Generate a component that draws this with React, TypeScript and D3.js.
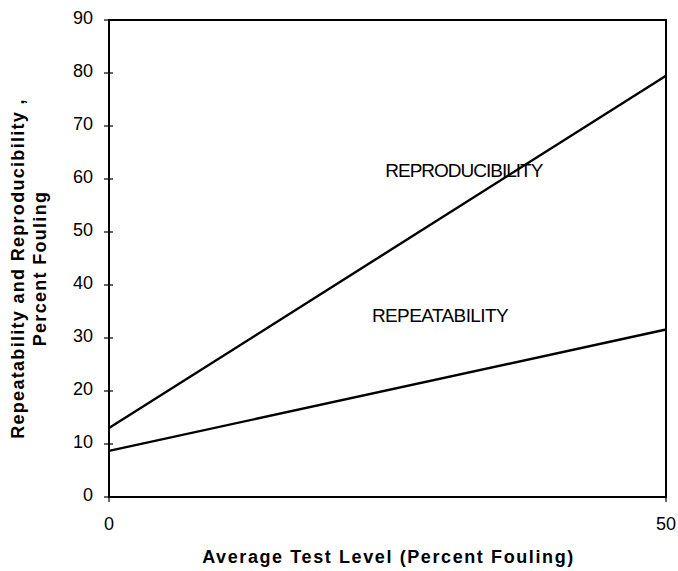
import React from "react";
import * as d3 from "d3";

const xTicks = [0, 50];
const yTicks = [0, 10, 20, 30, 40, 50, 60, 70, 80, 90];
const testLevels = [0, 50];
const reproducibility = [13.0, 79.5];
const repeatability = [8.7, 31.6];

const width = 678;
const height = 571;
const margin = { top: 20, right: 12, bottom: 74, left: 109 };

export default function App() {
  const x = d3.scaleLinear().domain([0, 50]).range([margin.left, width - margin.right]);
  const y = d3.scaleLinear().domain([0, 90]).range([height - margin.bottom, margin.top]);

  const line = d3
    .line<number>()
    .x((d, i) => x(testLevels[i]))
    .y((d) => y(d));

  const font = "Arial, 'Liberation Sans', sans-serif";
  const x0 = x(0);
  const x1 = x(50);
  const y0 = y(0);
  const y1 = y(90);

  return (
    <svg width={width} height={height} style={{ position: "absolute", left: 0, top: 0 }} fontFamily={font}>
      <rect x={0} y={0} width={width} height={height} fill="#fff" />
      {/* frame */}
      <rect x={x0} y={y1} width={x1 - x0} height={y0 - y1} fill="none" stroke="#000" strokeWidth={2} />

      {/* y ticks */}
      {yTicks.map((t) => (
        <g key={t}>
          <line x1={x0 - 5} x2={x0 + 4} y1={y(t)} y2={y(t)} stroke="#000" strokeWidth={1.2} />
          <text x={x0 - 16} y={y(t)} dy="0.2em" textAnchor="end" fontSize={18}>
            {t}
          </text>
        </g>
      ))}

      {/* x ticks */}
      {xTicks.map((t) => (
        <g key={t}>
          <line x1={x(t)} x2={x(t)} y1={y0 - 3} y2={y0 + 5} stroke="#000" strokeWidth={1.2} />
          <text x={x(t)} y={y0 + 33} textAnchor="middle" fontSize={18}>
            {t}
          </text>
        </g>
      ))}

      <path d={line(reproducibility) || ""} fill="none" stroke="#000" strokeWidth={2.4} />
      <path d={line(repeatability) || ""} fill="none" stroke="#000" strokeWidth={2.4} />

      <text x={x(24.8)} y={y(60.4)} fontSize={19} letterSpacing={-1}>
        REPRODUCIBILITY
      </text>
      <text x={x(23.6)} y={y(33)} fontSize={19} letterSpacing={-0.6}>
        REPEATABILITY
      </text>

      <text x={(x0 + x1) / 2 + 1} y={height - 8} textAnchor="middle" fontSize={18} fontWeight="bold" letterSpacing={1.6}>
        Average Test Level (Percent Fouling)
      </text>

      <g transform={`translate(24, ${(y0 + y1) / 2 + 10}) rotate(-90)`}>
        <text x={0} y={0} textAnchor="middle" fontSize={18} fontWeight="bold" letterSpacing={1.3}>
          Repeatability and Reproducibility ,
        </text>
        <text x={0} y={22} textAnchor="middle" fontSize={18} fontWeight="bold" letterSpacing={1.3}>
          Percent Fouling
        </text>
      </g>
    </svg>
  );
}
